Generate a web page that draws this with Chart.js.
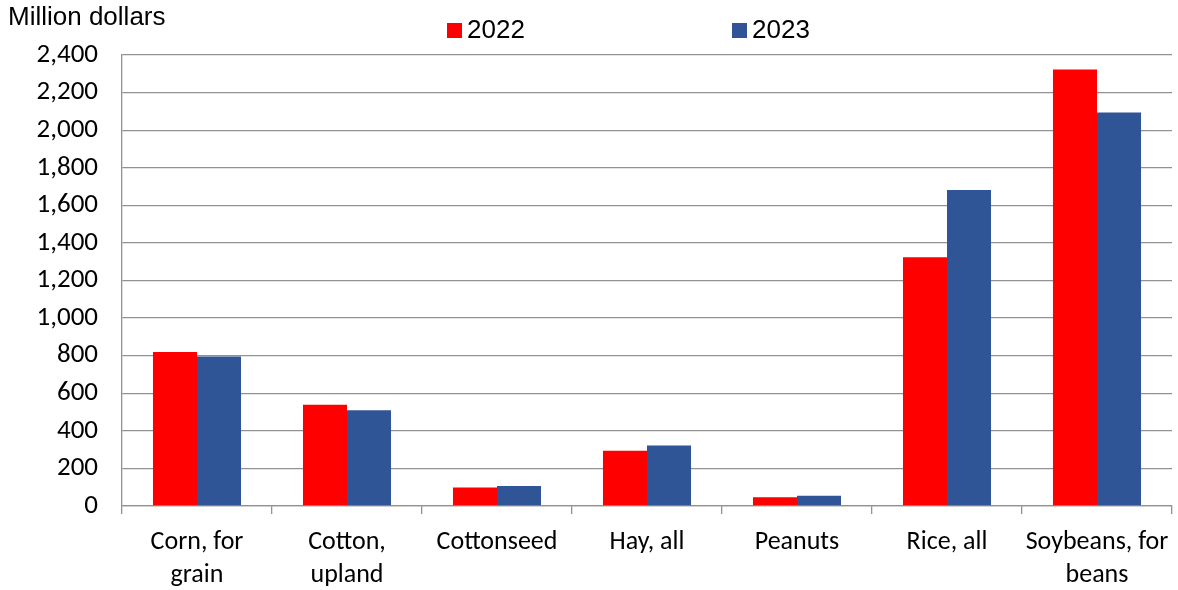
<!DOCTYPE html>
<html>
<head>
<meta charset="utf-8">
<script src="https://cdn.jsdelivr.net/npm/chart.js@4.4.1/dist/chart.umd.min.js"></script>
<style>
html,body{margin:0;padding:0;background:#fff;}
#wrap{width:1178px;height:590px;position:relative;}
</style>
</head>
<body>
<div id="wrap"><canvas id="c" width="1178" height="590"></canvas></div>
<script>
const categories = [["Corn, for","grain"],["Cotton,","upland"],"Cottonseed","Hay, all","Peanuts","Rice, all",["Soybeans, for","beans"]];
const values2022 = [819, 539, 99, 294, 47, 1324, 2323];
const values2023 = [795, 509, 106, 322, 54, 1682, 2094];
const seriesLabels = ["2022", "2023"];
const seriesColors = ["#ff0000", "#2f5597"];
const yTicks = [0, 200, 400, 600, 800, 1000, 1200, 1400, 1600, 1800, 2000, 2200, 2400];
const yTitle = "Million dollars";

const GRID = "#929292";
const LABEL_FONT = "Carlito, Lato, 'Open Sans', sans-serif";

const overlay = {
  id: 'overlay',
  afterDraw(chart) {
    const ctx = chart.ctx;
    ctx.save();
    ctx.fillStyle = '#000';
    ctx.font = "26px 'Liberation Sans', Arial, sans-serif";
    ctx.textBaseline = 'middle';
    ctx.textAlign = 'left';
    ctx.fillText(yTitle, 8, 18);
    const starts = [447, 732];
    chart.data.datasets.forEach((ds, i) => {
      const x = starts[i];
      ctx.fillStyle = ds.backgroundColor;
      ctx.fillRect(x, 23, 15, 15);
      ctx.fillStyle = '#000';
      ctx.fillText(ds.label, x + 20, 31);
    });
    ctx.restore();
  }
};

new Chart(document.getElementById('c'), {
  type: 'bar',
  data: {
    labels: categories,
    datasets: [
      {label: seriesLabels[0], data: values2022, backgroundColor: seriesColors[0], borderWidth: 0},
      {label: seriesLabels[1], data: values2023, backgroundColor: seriesColors[1], borderWidth: 0}
    ]
  },
  options: {
    responsive: false,
    animation: false,
    devicePixelRatio: 1,
    layout: {padding: {top: 55, right: 6, left: 0, bottom: 0}},
    plugins: {legend: {display: false}, tooltip: {enabled: false}, title: {display: false}},
    datasets: {bar: {categoryPercentage: 0.587, barPercentage: 1.0}},
    scales: {
      x: {
        offset: true,
        grid: {display: true, offset: true, drawOnChartArea: false, drawTicks: true, tickLength: 8, color: GRID, lineWidth: 1.3},
        border: {display: true, color: GRID, width: 1.3},
        ticks: {color: '#000', font: {family: LABEL_FONT, size: 26, lineHeight: 1.28}, padding: 12, maxRotation: 0, autoSkip: false},
        afterFit(scale) { scale.height = 84; scale.paddingLeft = 0; scale.paddingRight = 0; }
      },
      y: {
        min: 0, max: 2400,
        afterBuildTicks(scale) { scale.ticks = yTicks.map(v => ({value: v})); },
        grid: {color: GRID, lineWidth: 1.3, drawTicks: false},
        border: {display: true, color: GRID, width: 1.3},
        ticks: {color: '#000', font: {family: LABEL_FONT, size: 27}, padding: 24,
          callback: (v) => Number(v).toLocaleString('en-US')},
        afterFit(scale) { scale.width = 122; }
      }
    }
  },
  plugins: [overlay]
});
</script>
</body>
</html>
